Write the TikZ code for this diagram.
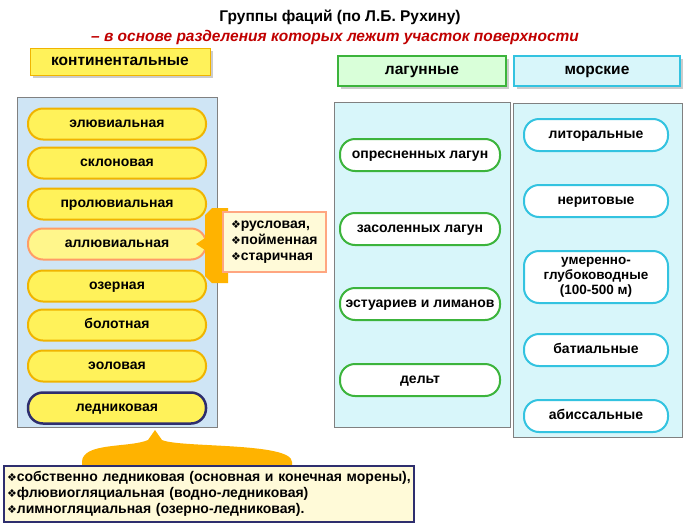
\documentclass[tikz,border=0pt]{standalone}
\usepackage{fontspec}
\setmainfont{Liberation Sans}
\newfontfamily\dv{DejaVu Sans}
\usetikzlibrary{shadows}
\definecolor{panelblue}{HTML}{CFE5F5}
\definecolor{panelcyan}{HTML}{D8F6FA}
\definecolor{pillyel}{HTML}{FFF25A}
\definecolor{pillbord}{HTML}{F0B400}
\definecolor{orng}{HTML}{FFB300}
\definecolor{cream}{HTML}{FFFAD8}
\definecolor{navy}{HTML}{2E2E6E}
\definecolor{grn}{HTML}{3CB43C}
\definecolor{cyn}{HTML}{33C3E0}
\definecolor{redt}{HTML}{C00000}
\newcommand{\bul}{{\dv\fontsize{11}{12}\selectfont ❖}}
\begin{document}
\begin{tikzpicture}[x=1pt,y=-1pt,
  txt/.style={font=\fontsize{14}{16}\selectfont\bfseries},
  one/.style={text height=10pt,text depth=3pt},
  ypill/.style={txt,one,draw=pillbord,line width=2pt,fill=pillyel,rounded corners=15pt,minimum width=178pt,minimum height=31pt,inner sep=1pt},
  gpill/.style={txt,one,draw=grn,line width=2pt,fill=white,rounded corners=15pt,minimum width=160pt,minimum height=32pt,inner sep=1pt},
  cpill/.style={txt,draw=cyn,line width=2pt,fill=white,rounded corners=15pt,minimum width=144pt,minimum height=32pt,inner sep=1pt,align=center},
  panel/.style={draw=gray,line width=0.8pt,inner sep=0pt},
  hdr/.style={txt,one,font=\fontsize{15.5}{18}\selectfont\bfseries,minimum height=30pt,inner sep=0pt,drop shadow={opacity=0.4}}]
\useasboundingbox (0,0) rectangle (700,525);
\node[txt,font=\fontsize{15.5}{18}\selectfont\bfseries] (t1) at (340,17) {Группы фаций (по Л.Б. Рухину)};
\node[txt,font=\fontsize{15.5}{18}\selectfont\bfseries\itshape,text=redt] (t2) at (335,37) {– в основе разделения которых лежит участок поверхности};
\node[hdr,fill=pillyel,draw=pillbord,minimum width=180pt,minimum height=27pt] (hk) at (120,62) {континентальные};
\node[hdr,fill=green!15,draw=grn,line width=2pt,minimum width=168pt] (hl) at (422,71) {лагунные};
\node[hdr,fill=panelcyan,draw=cyn,line width=2pt,minimum width=166pt] (hm) at (597,71) {морские};
\node[panel,fill=panelblue,minimum width=200pt,minimum height=330pt] (pk) at (117,262) {};
\node[panel,fill=panelcyan,minimum width=176pt,minimum height=325pt] (pl) at (422,265) {};
\node[panel,fill=panelcyan,minimum width=169pt,minimum height=334pt] (pm) at (598,270) {};
\node[ypill] (a1) at (117,124) {элювиальная};
\node[ypill] (a2) at (117,163) {склоновая};
\node[ypill] (a3) at (117,204) {пролювиальная};
\node[ypill,draw=orange!70!red!60,fill=pillyel!70] (a4) at (117,244) {аллювиальная};
\node[ypill] (a5) at (117,286) {озерная};
\node[ypill] (a6) at (117,325) {болотная};
\node[ypill] (a7) at (117,366) {эоловая};
\node[ypill,draw=navy,line width=2.5pt] (a8) at (117,408) {ледниковая};
% side brace
\fill[orng] (205,215) -- (212,208) -- (228,208) -- (228,283) -- (212,283) -- (205,276) -- (205,250) -- (196,244) -- (205,238) -- cycle;
\node[txt,draw=orange!60!red!50,line width=1.5pt,fill=cream,align=left,inner sep=3pt,minimum height=60pt,minimum width=103pt,anchor=west] (sb) at (222,242) {\bul русловая,\\\bul пойменная\\\bul старичная};
\node[gpill] (l1) at (420,155) {опресненных лагун};
\node[gpill] (l2) at (420,229) {засоленных лагун};
\node[gpill] (l3) at (420,304) {эстуариев и лиманов};
\node[gpill] (l4) at (420,380) {дельт};
\node[cpill,one] (m1) at (596,135) {литоральные};
\node[cpill,one] (m2) at (596,201) {неритовые};
\node[cpill,minimum height=52pt,font=\fontsize{13.5}{15}\selectfont\bfseries] (m3) at (596,277) {умеренно-\\глубоководные\\(100-500 м)};
\node[cpill,one] (m4) at (596,350) {батиальные};
\node[cpill,one] (m5) at (596,416) {абиссальные};
% bottom brace
\fill[orng] (82,470) -- (82,462) .. controls (82,442) and (130,448) .. (148,440) -- (155,430) -- (162,440) .. controls (180,448) and (292,442) .. (292,462) -- (292,470) -- cycle;
\node[txt,draw=navy,line width=2pt,fill=cream,align=left,text width=404pt,minimum height=56pt,inner sep=3pt,anchor=north west] (bb) at (3,465) {\bul собственно ледниковая (основная и конечная морены),\\\bul флювиогляциальная (водно-ледниковая)\\\bul лимногляциальная (озерно-ледниковая).};
\end{tikzpicture}
\end{document}
